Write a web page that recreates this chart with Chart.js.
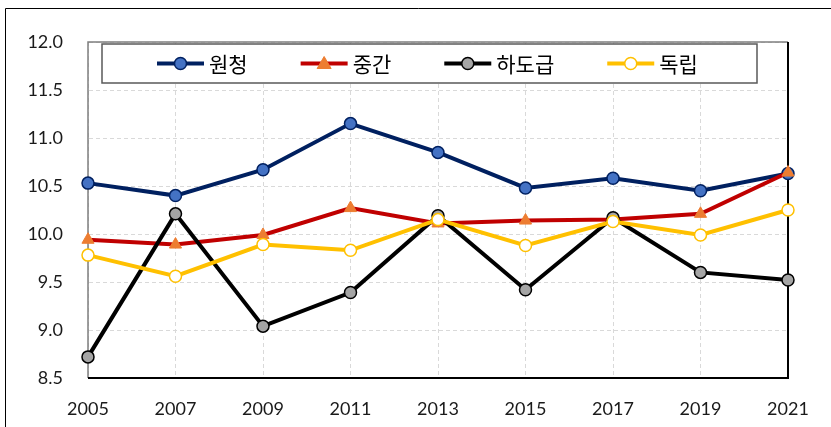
<!DOCTYPE html>
<html>
<head>
<meta charset="utf-8">
<script src="https://cdn.jsdelivr.net/npm/chart.js@4/dist/chart.umd.min.js"></script>
<style>
  html, body { margin: 0; padding: 0; background: #fff; }
  #wrap { width: 831px; height: 427px; position: relative; }
</style>
</head>
<body>
<div id="wrap"><canvas id="chart" width="831" height="427"></canvas></div>
<script>
// chart data
const years = ['2005', '2007', '2009', '2011', '2013', '2015', '2017', '2019', '2021'];
const wonCheong = [10.53, 10.40, 10.67, 11.15, 10.85, 10.48, 10.58, 10.45, 10.63];
const junggan = [9.94, 9.89, 9.99, 10.27, 10.11, 10.14, 10.15, 10.21, 10.64];
const hadogeup = [8.72, 10.21, 9.04, 9.39, 10.19, 9.42, 10.17, 9.60, 9.52];
const dokrip = [9.78, 9.56, 9.89, 9.83, 10.15, 9.88, 10.13, 9.99, 10.25];
const seriesNames = ['원청', '중간', '하도급', '독립'];
const yMin = 8.5, yMax = 12.0, yStep = 0.5;

// frame around the plot + outer frame
const framePlugin = {
    id: 'frame',
    beforeDraw(chart) {
        const c = chart.ctx;
        c.save();
        c.strokeStyle = '#000';
        c.lineWidth = 1;
        c.beginPath();
        c.moveTo(5.5, 427);
        c.lineTo(5.5, 8.5);
        c.lineTo(831, 8.5);
        c.stroke();
        c.restore();
    },
    beforeDatasetsDraw(chart) {
        const a = chart.chartArea;
        const c = chart.ctx;
        c.save();
        c.lineWidth = 1.5;
        c.strokeStyle = '#7f7f7f';
        c.beginPath();
        c.moveTo(a.left, a.bottom);
        c.lineTo(a.left, a.top);
        c.lineTo(a.right, a.top);
        c.stroke();
        c.strokeStyle = '#000';
        c.lineWidth = 2;
        c.beginPath();
        c.moveTo(a.left, a.bottom);
        c.lineTo(a.right, a.bottom);
        c.lineTo(a.right, a.top);
        c.stroke();
        c.restore();
    }
};

// legend box like the original (line with marker through it)
const legendPlugin = {
    id: 'boxLegend',
    afterDraw(chart) {
        const c = chart.ctx;
        const box = { x: 102, y: 44, w: 655, h: 39 };
        c.save();
        c.fillStyle = '#fff';
        c.fillRect(box.x, box.y, box.w, box.h);
        c.strokeStyle = '#595959';
        c.lineWidth = 1.5;
        c.strokeRect(box.x, box.y, box.w, box.h);

        c.font = '21px "Noto Sans CJK KR"';
        c.textBaseline = 'middle';
        const cy = box.y + box.h / 2;
        let x = 157;
        chart.data.datasets.forEach(ds => {
            c.strokeStyle = ds.borderColor;
            c.lineWidth = 4;
            c.beginPath();
            c.moveTo(x, cy);
            c.lineTo(x + 47, cy);
            c.stroke();
            const mx = x + 23.5;
            c.fillStyle = ds.pointBackgroundColor;
            c.strokeStyle = ds.pointBorderColor;
            c.lineWidth = ds.pointBorderWidth;
            c.beginPath();
            if (ds.pointStyle === 'triangle') {
                c.moveTo(mx, cy - 7);
                c.lineTo(mx + 7, cy + 5);
                c.lineTo(mx - 7, cy + 5);
                c.closePath();
            } else {
                c.arc(mx, cy, 6, 0, Math.PI * 2);
            }
            c.fill();
            c.stroke();
            c.fillStyle = '#000';
            c.fillText(ds.label, x + 52, cy + 1);
            x += 53 + c.measureText(ds.label).width + 52;
        });
        c.restore();
    }
};

const dash = [4, 3];

new Chart(document.getElementById('chart'), {
    type: 'line',
    data: {
        labels: years,
        datasets: [{
            label: seriesNames[0],
            data: wonCheong,
            borderColor: '#002060',
            borderWidth: 4,
            pointStyle: 'circle',
            pointRadius: 6,
            pointBackgroundColor: '#4472C4',
            pointBorderColor: '#002060',
            pointBorderWidth: 1.5,
            order: 4
        }, {
            label: seriesNames[1],
            data: junggan,
            borderColor: '#C00000',
            borderWidth: 4,
            pointStyle: 'triangle',
            pointRadius: 7,
            pointBackgroundColor: '#ED7D31',
            pointBorderColor: '#ED7D31',
            pointBorderWidth: 1,
            order: 3
        }, {
            label: seriesNames[2],
            data: hadogeup,
            borderColor: '#000000',
            borderWidth: 4,
            pointStyle: 'circle',
            pointRadius: 6,
            pointBackgroundColor: '#A5A5A5',
            pointBorderColor: '#000000',
            pointBorderWidth: 1.5,
            order: 2
        }, {
            label: seriesNames[3],
            data: dokrip,
            borderColor: '#FFC000',
            borderWidth: 4,
            pointStyle: 'circle',
            pointRadius: 6,
            pointBackgroundColor: '#FFFFFF',
            pointBorderColor: '#FFC000',
            pointBorderWidth: 1.5,
            order: 1
        }]
    },
    options: {
        responsive: false,
        animation: false,
        clip: false,
        layout: { padding: { left: 0, top: 42, right: 43, bottom: 0 } },
        elements: { line: { tension: 0 } },
        plugins: {
            legend: { display: false },
            tooltip: { enabled: false }
        },
        scales: {
            x: {
                offset: false,
                afterFit: s => { s.height = 49; },
                grid: { color: '#D9D9D9', lineWidth: 1, drawTicks: false },
                border: { display: true, color: 'rgba(0,0,0,0)', dash: dash },
                ticks: {
                    color: '#1a1a1a',
                    font: { family: 'Lato', size: 18 },
                    padding: 20,
                    maxRotation: 0,
                    autoSkip: false
                }
            },
            y: {
                min: yMin,
                max: yMax,
                afterFit: s => { s.width = 88; },
                grid: { color: '#D9D9D9', lineWidth: 1, drawTicks: false },
                border: { display: true, color: 'rgba(0,0,0,0)', dash: dash },
                ticks: {
                    stepSize: yStep,
                    color: '#1a1a1a',
                    font: { family: 'Lato', size: 18 },
                    padding: 25,
                    callback: v => v.toFixed(1)
                }
            }
        }
    },
    plugins: [framePlugin, legendPlugin]
});
</script>
</body>
</html>
